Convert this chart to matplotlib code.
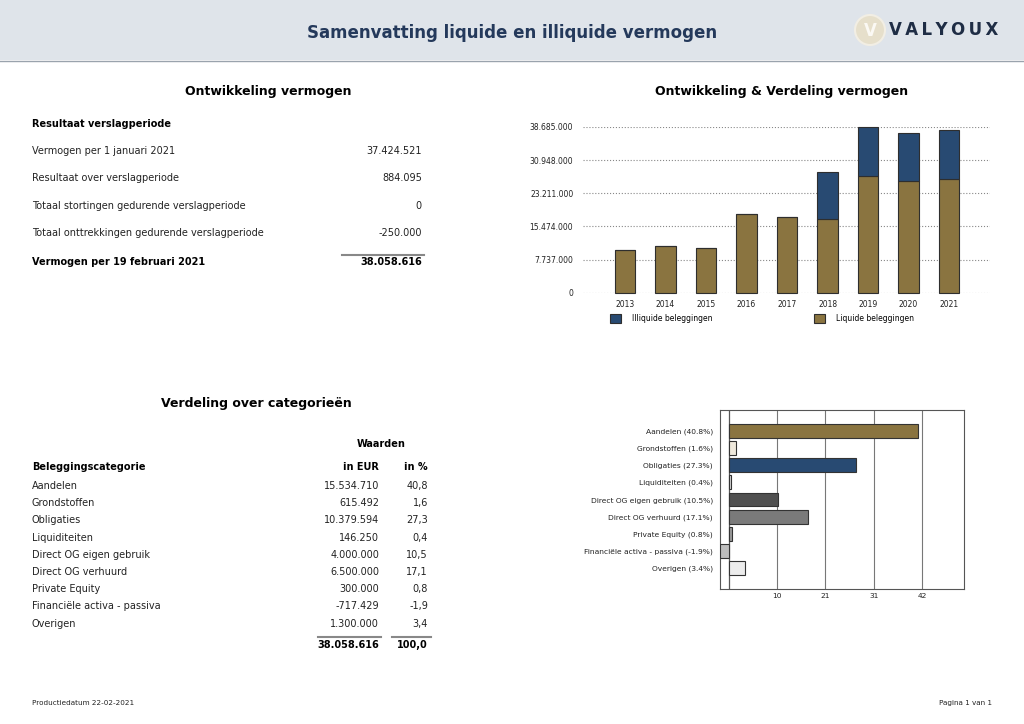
import matplotlib
matplotlib.use("Agg")
import matplotlib.pyplot as plt
from matplotlib.patches import Rectangle, Ellipse
from matplotlib.lines import Line2D
import numpy as np

# data
jaren = ["2013", "2014", "2015", "2016", "2017", "2018", "2019", "2020", "2021"]
liquide = [10040000, 10900000, 10430000, 18370000, 17590000, 17120000, 27240000, 26000000, 26620000]
illiquide = [0, 0, 0, 0, 0, 11060000, 11440000, 11280000, 11440000]
y_ticks = [0, 7737000, 15474000, 23211000, 30948000, 38685000]

resultaat_labels = ["Vermogen per 1 januari 2021", "Resultaat over verslagperiode",
                    "Totaal stortingen gedurende verslagperiode",
                    "Totaal onttrekkingen gedurende verslagperiode"]
resultaat_waarden = [37424521, 884095, 0, -250000]
totaal_vermogen = 38058616

categorieen = ["Aandelen", "Grondstoffen", "Obligaties", "Liquiditeiten",
               "Direct OG eigen gebruik", "Direct OG verhuurd", "Private Equity",
               "Financiële activa - passiva", "Overigen"]
waarden_eur = [15534710, 615492, 10379594, 146250, 4000000, 6500000, 300000, -717429, 1300000]
waarden_pct = [40.8, 1.6, 27.3, 0.4, 10.5, 17.1, 0.8, -1.9, 3.4]
totaal_pct = 100.0
kleuren_cat = ["#8a7440", "#efe9dc", "#284a72", "#d8d8d8", "#505050",
               "#7a7a7a", "#9a9a9a", "#bdbdbd", "#ececec"]

BRUIN = "#8a7440"
BLAUW = "#284a72"
W, H = 1024, 724


def fx(x):
    return x / W


def fy(y):
    return 1 - y / H


def nl(v):
    return f"{v:,}".replace(",", ".")


def pct(v):
    return f"{v:.1f}".replace(".", ",")


fig = plt.figure(figsize=(10.24, 7.24), dpi=100)


def txt(x, y, s, **kw):
    fig.text(fx(x), fy(y), s, va="center", **kw)


def hline(x0, x1, y, **kw):
    fig.add_artist(Line2D([fx(x0), fx(x1)], [fy(y), fy(y)], transform=fig.transFigure, **kw))


# kopbalk
fig.add_artist(Rectangle((0, fy(60)), 1, 60 / H, transform=fig.transFigure,
                         facecolor="#dfe4ea", edgecolor="none", zorder=0))
hline(0, W, 60.5, color="#9aa3ad", lw=1)
txt(512, 33, "Samenvatting liquide en illiquide vermogen", ha="center",
    fontsize=12, fontweight="bold", color="#24395b")
fig.add_artist(Ellipse((fx(870), fy(30)), 30 / W, 30 / H, transform=fig.transFigure,
                       facecolor="#e6dfcb", edgecolor="#f2eee4", lw=1.5))
txt(870, 31, "V", ha="center", fontsize=12, fontweight="bold", color="#fbf9f4")
txt(943.5, 30, "\u2009".join("VALYOUX"), ha="center", fontsize=12, fontweight="heavy",
    color="#1f2d45")

# linker tabel 1
txt(268, 92, "Ontwikkeling vermogen", ha="center", fontsize=9, fontweight="bold")
txt(32, 124, "Resultaat verslagperiode", fontsize=7, fontweight="bold")
for i, (lab, val) in enumerate(zip(resultaat_labels, resultaat_waarden)):
    y = 151 + i * 27.3
    txt(32, y, lab, fontsize=7, color="#222222")
    txt(422, y, nl(val), ha="right", fontsize=7, color="#222222")
hline(342, 424, 255, color="#888888", lw=1.5)
txt(32, 262, "Vermogen per 19 februari 2021", fontsize=7, fontweight="bold")
txt(422, 262, nl(totaal_vermogen), ha="right", fontsize=7, fontweight="bold")

# linker tabel 2
txt(256, 403, "Verdeling over categorieën", ha="center", fontsize=9, fontweight="bold")
txt(381, 444, "Waarden", ha="center", fontsize=7, fontweight="bold")
txt(32, 467, "Beleggingscategorie", fontsize=7, fontweight="bold")
txt(379, 467, "in EUR", ha="right", fontsize=7, fontweight="bold")
txt(428, 467, "in %", ha="right", fontsize=7, fontweight="bold")
for i, (cat, eur, p) in enumerate(zip(categorieen, waarden_eur, waarden_pct)):
    y = 486 + i * 17.2
    txt(32, y, cat, fontsize=7, color="#222222")
    txt(379, y, nl(eur), ha="right", fontsize=7, color="#222222")
    txt(428, y, pct(p), ha="right", fontsize=7, color="#222222")
hline(318, 381, 637, color="#888888", lw=1.5)
hline(392, 431, 637, color="#888888", lw=1.5)
txt(379, 645, nl(totaal_vermogen), ha="right", fontsize=7, fontweight="bold")
txt(428, 645, pct(totaal_pct), ha="right", fontsize=7, fontweight="bold")

# gestapelde staafgrafiek
txt(782, 92, "Ontwikkeling & Verdeling vermogen", ha="center", fontsize=9, fontweight="bold")
ax = fig.add_axes([fx(583), fy(292.7), (990 - 583) / W, (292.7 - 127) / H])
x = np.arange(len(jaren))
b_liq = ax.bar(x, liquide, width=0.51, color=BRUIN, edgecolor="#2e2e2e", lw=0.8,
               zorder=3, clip_on=False)
b_ill = ax.bar(x, illiquide, bottom=liquide, width=0.51, color=BLAUW,
               edgecolor="#2e2e2e", lw=0.8, zorder=3, clip_on=False)
ax.set_ylim(0, y_ticks[-1])
ax.set_xlim(-1.04, 9.01)
ax.set_yticks(y_ticks)
ax.set_yticklabels([nl(v) for v in y_ticks])
ax.set_xticks(x)
ax.set_xticklabels(jaren)
ax.tick_params(length=0, labelsize=5.5, labelcolor="#222222")
ax.tick_params(axis="y", pad=7)
ax.tick_params(axis="x", pad=5)
ax.yaxis.grid(True, linestyle=":", color="#888888", lw=0.8, zorder=0)
for s in ax.spines.values():
    s.set_visible(False)
ax.legend(handles=[b_ill, b_liq], labels=["Illiquide beleggingen", "Liquide beleggingen"],
          loc="upper left", bbox_to_anchor=(fx(603), fy(307)), bbox_transform=fig.transFigure,
          ncol=2, frameon=False, fontsize=5.5, handlelength=1.4, handleheight=1.4,
          handletextpad=1.5, columnspacing=13.3)

# horizontale staafgrafiek
ax2 = fig.add_axes([fx(719.7), fy(589), (964.3 - 719.7) / W, (589 - 410) / H])
y = np.arange(len(categorieen))
ax2.barh(y, waarden_pct, height=0.8, color=kleuren_cat, edgecolor="#333333", lw=0.8, zorder=3)
ax2.set_ylim(len(categorieen) - 1 + 1.2, -1.2)
ax2.set_xlim(-1.94, 50.7)
xt = [10.4 * k for k in range(1, 5)]
ax2.set_xticks(xt)
ax2.set_xticklabels([str(round(v)) for v in xt])
ax2.set_yticks(y)
ax2.set_yticklabels([f"{c} ({p:.1f}%)" for c, p in zip(categorieen, waarden_pct)])
ax2.tick_params(length=0, labelsize=5.4, labelcolor="#222222")
ax2.tick_params(axis="x", pad=3)
ax2.tick_params(axis="y", pad=5)
ax2.xaxis.grid(True, color="#777777", lw=0.8, zorder=0)
ax2.axvline(0, color="#555555", lw=0.9, zorder=2)
for s in ax2.spines.values():
    s.set_color("#555555")
    s.set_linewidth(0.8)

# voettekst
txt(32, 703, "Productiedatum 22-02-2021", fontsize=5.2, color="#222222")
txt(992, 703, "Pagina 1 van 1", ha="right", fontsize=5.2, color="#222222")

fig.savefig("out.png", dpi=100)
